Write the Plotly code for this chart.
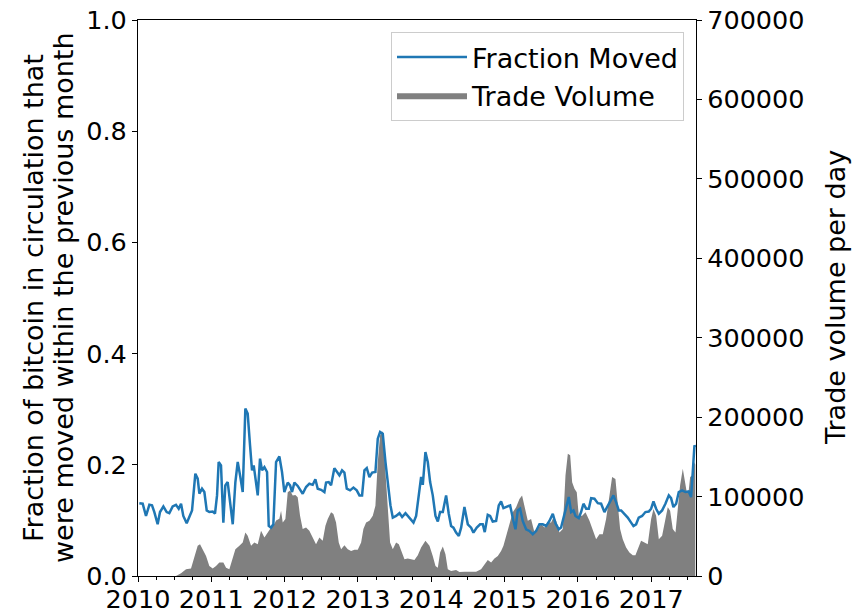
import plotly.graph_objects as go

# ---- Data (decimal years) ----
frac_years = [2010.018, 2010.064, 2010.109, 2010.155, 2010.191, 2010.223, 2010.268, 2010.300, 2010.346, 2010.391,
              2010.427, 2010.473, 2010.518, 2010.555, 2010.587, 2010.618, 2010.664, 2010.700, 2010.737, 2010.782,
              2010.814, 2010.837, 2010.873, 2010.905, 2010.937, 2010.973, 2011.019, 2011.050, 2011.078, 2011.100,
              2011.132, 2011.164, 2011.191, 2011.223, 2011.255, 2011.292, 2011.328, 2011.360, 2011.392, 2011.428,
              2011.464, 2011.496, 2011.528, 2011.555, 2011.578, 2011.601, 2011.633, 2011.664, 2011.692, 2011.724,
              2011.760, 2011.783, 2011.814, 2011.846, 2011.883, 2011.928, 2011.964, 2011.996, 2012.042, 2012.074,
              2012.101, 2012.133, 2012.178, 2012.246, 2012.292, 2012.337, 2012.383, 2012.419, 2012.451, 2012.497,
              2012.542, 2012.565, 2012.601, 2012.633, 2012.678, 2012.715, 2012.747, 2012.783, 2012.815, 2012.847,
              2012.892, 2012.938, 2012.983, 2013.020, 2013.056, 2013.088, 2013.120, 2013.156, 2013.193, 2013.238,
              2013.270, 2013.302, 2013.338, 2013.375, 2013.407, 2013.443, 2013.475, 2013.520, 2013.566, 2013.602,
              2013.648, 2013.679, 2013.725, 2013.757, 2013.793, 2013.829, 2013.861, 2013.884, 2013.920, 2013.952,
              2013.984, 2014.020, 2014.057, 2014.089, 2014.120, 2014.157, 2014.202, 2014.238, 2014.270, 2014.302,
              2014.338, 2014.375, 2014.407, 2014.452, 2014.498, 2014.543, 2014.575, 2014.620, 2014.666, 2014.702,
              2014.729, 2014.770, 2014.802, 2014.838, 2014.884, 2014.920, 2014.952, 2014.984, 2015.029, 2015.075,
              2015.120, 2015.148, 2015.179, 2015.211, 2015.247, 2015.293, 2015.338, 2015.384, 2015.429, 2015.475,
              2015.520, 2015.566, 2015.611, 2015.657, 2015.693, 2015.739, 2015.770, 2015.802, 2015.839, 2015.875,
              2015.907, 2015.939, 2015.966, 2016.011, 2016.043, 2016.075, 2016.112, 2016.148, 2016.180, 2016.225,
              2016.271, 2016.316, 2016.361, 2016.407, 2016.452, 2016.484, 2016.520, 2016.557, 2016.589, 2016.634,
              2016.679, 2016.725, 2016.757, 2016.793, 2016.829, 2016.875, 2016.920, 2016.966, 2016.998, 2017.030,
              2017.066, 2017.103, 2017.148, 2017.193, 2017.239, 2017.270, 2017.302, 2017.339, 2017.375, 2017.420,
              2017.466, 2017.511, 2017.543, 2017.566, 2017.589, 2017.600]
fraction_moved = [0.131, 0.130, 0.108, 0.128, 0.127, 0.115, 0.093, 0.115, 0.125, 0.115,
                  0.113, 0.125, 0.128, 0.121, 0.130, 0.108, 0.095, 0.105, 0.118, 0.184,
                  0.175, 0.148, 0.157, 0.151, 0.118, 0.115, 0.116, 0.112, 0.145, 0.205,
                  0.199, 0.096, 0.163, 0.169, 0.133, 0.093, 0.169, 0.205, 0.181, 0.151,
                  0.301, 0.292, 0.235, 0.190, 0.199, 0.178, 0.145, 0.211, 0.190, 0.196,
                  0.187, 0.090, 0.087, 0.093, 0.205, 0.215, 0.187, 0.151, 0.168, 0.163,
                  0.151, 0.168, 0.162, 0.148, 0.160, 0.166, 0.164, 0.174, 0.157, 0.155,
                  0.151, 0.168, 0.169, 0.163, 0.194, 0.187, 0.181, 0.190, 0.186, 0.157,
                  0.154, 0.159, 0.154, 0.145, 0.145, 0.190, 0.194, 0.178, 0.186, 0.187,
                  0.247, 0.259, 0.256, 0.205, 0.163, 0.127, 0.105, 0.108, 0.113, 0.106,
                  0.113, 0.108, 0.102, 0.096, 0.108, 0.148, 0.178, 0.164, 0.223, 0.205,
                  0.169, 0.145, 0.108, 0.098, 0.115, 0.115, 0.145, 0.112, 0.090, 0.087,
                  0.078, 0.072, 0.087, 0.124, 0.093, 0.087, 0.078, 0.087, 0.093, 0.093,
                  0.079, 0.110, 0.108, 0.098, 0.099, 0.127, 0.134, 0.122, 0.125, 0.127,
                  0.099, 0.084, 0.118, 0.121, 0.099, 0.084, 0.081, 0.075, 0.081, 0.093,
                  0.093, 0.090, 0.099, 0.112, 0.095, 0.084, 0.087, 0.104, 0.127, 0.142,
                  0.115, 0.118, 0.108, 0.104, 0.115, 0.130, 0.121, 0.121, 0.140, 0.139,
                  0.131, 0.130, 0.115, 0.127, 0.136, 0.145, 0.133, 0.118, 0.118, 0.112,
                  0.105, 0.096, 0.090, 0.093, 0.105, 0.108, 0.115, 0.116, 0.121, 0.134,
                  0.121, 0.112, 0.118, 0.130, 0.145, 0.140, 0.124, 0.130, 0.151, 0.154,
                  0.151, 0.152, 0.142, 0.187, 0.235, 0.232]

vol_years = [2010.500, 2010.518, 2010.587, 2010.655, 2010.723, 2010.768, 2010.814, 2010.846, 2010.882, 2010.928,
             2010.973, 2011.019, 2011.064, 2011.110, 2011.164, 2011.201, 2011.246, 2011.292, 2011.328, 2011.383,
             2011.428, 2011.464, 2011.496, 2011.542, 2011.587, 2011.633, 2011.678, 2011.724, 2011.769, 2011.815,
             2011.860, 2011.883, 2011.928, 2011.951, 2011.974, 2012.010, 2012.042, 2012.074, 2012.110, 2012.146,
             2012.178, 2012.210, 2012.246, 2012.292, 2012.337, 2012.383, 2012.428, 2012.474, 2012.519, 2012.556,
             2012.588, 2012.633, 2012.665, 2012.701, 2012.738, 2012.770, 2012.815, 2012.861, 2012.906, 2012.952,
             2012.997, 2013.043, 2013.074, 2013.111, 2013.156, 2013.202, 2013.238, 2013.270, 2013.302, 2013.338,
             2013.375, 2013.407, 2013.438, 2013.475, 2013.520, 2013.557, 2013.602, 2013.634, 2013.679, 2013.725,
             2013.770, 2013.816, 2013.861, 2013.920, 2013.975, 2014.020, 2014.057, 2014.089, 2014.120, 2014.157,
             2014.193, 2014.225, 2014.270, 2014.338, 2014.384, 2014.452, 2014.520, 2014.611, 2014.679, 2014.725,
             2014.770, 2014.816, 2014.861, 2014.907, 2014.952, 2014.984, 2015.020, 2015.066, 2015.111, 2015.157,
             2015.202, 2015.238, 2015.270, 2015.316, 2015.361, 2015.407, 2015.452, 2015.497, 2015.543, 2015.588,
             2015.634, 2015.666, 2015.702, 2015.748, 2015.793, 2015.830, 2015.862, 2015.894, 2015.921, 2015.953,
             2015.984, 2016.011, 2016.057, 2016.103, 2016.157, 2016.202, 2016.248, 2016.293, 2016.339, 2016.384,
             2016.430, 2016.466, 2016.511, 2016.543, 2016.575, 2016.611, 2016.657, 2016.702, 2016.748, 2016.784,
             2016.816, 2016.861, 2016.907, 2016.952, 2016.998, 2017.030, 2017.066, 2017.103, 2017.148, 2017.180,
             2017.225, 2017.257, 2017.293, 2017.330, 2017.361, 2017.393, 2017.430, 2017.457, 2017.484, 2017.511,
             2017.530, 2017.557, 2017.589, 2017.600]
trade_volume = [0, 0, 3400, 8400, 9300, 25300, 38000, 40000, 33800, 25300,
                12700, 9300, 12700, 16900, 16900, 10500, 8400, 21100, 33800, 38000,
                42200, 54800, 50600, 38000, 42200, 40000, 57000, 48500, 54800, 61200,
                65400, 70000, 72000, 82300, 67500, 71700, 105500, 107600, 101300, 102100,
                99200, 75900, 59100, 61200, 57000, 48500, 40100, 48500, 44300, 63300,
                71700, 80200, 78100, 67500, 42200, 33800, 38800, 33800, 31600, 32900,
                32900, 42200, 59100, 67500, 69600, 75900, 88600, 143500, 177200, 182300,
                130800, 75900, 42200, 33800, 42200, 40100, 29500, 21100, 21900, 21100,
                20300, 26000, 35900, 44300, 38000, 25300, 12700, 10500, 29500, 37100,
                27400, 8400, 6300, 7600, 5100, 5500, 5100, 5500, 8400, 14800,
                20300, 16900, 21900, 25300, 31600, 38000, 50600, 67500, 80200, 86500,
                97000, 101300, 88600, 69600, 71700, 54800, 59100, 65400, 61200, 67500,
                67500, 73800, 70000, 54800, 59100, 126600, 154000, 151900, 118100, 109700,
                105500, 75900, 75900, 80200, 69600, 59100, 46400, 52700, 52700, 71700,
                105500, 124500, 122000, 88600, 59100, 46400, 35900, 29500, 26200, 26200,
                33800, 44300, 42200, 40100, 71700, 84400, 75900, 46400, 50600, 67500,
                86500, 82300, 59100, 54800, 80200, 113900, 135000, 118100, 105500, 107600,
                124500, 126600, 143500, 140000]

year_ticks = [2010, 2011, 2012, 2013, 2014, 2015, 2016, 2017]
year_labels = [str(y) for y in year_ticks]
frac_ticks = [0.0, 0.2, 0.4, 0.6, 0.8, 1.0]
vol_ticks = [0, 100000, 200000, 300000, 400000, 500000, 600000, 700000]

FONT = "DejaVu Sans"
FS_TICK = 25.5
FS_LEG = 27
FS_TITLE = 27

L, R, T, B = 138, 166, 20, 38
PW = 862 - L - R

fig = go.Figure()
fig.add_trace(go.Scatter(
    x=frac_years, y=fraction_moved, mode="lines", name="Fraction Moved",
    line=dict(color="#1f77b4", width=2.5), yaxis="y2"))
fig.add_trace(go.Scatter(
    x=vol_years, y=trade_volume, mode="lines", name="Trade Volume",
    fill="tozeroy", fillcolor="#808080", line=dict(color="#808080", width=0),
    yaxis="y"))

axis_common = dict(showline=True, linecolor="black", linewidth=1.2, ticks="outside",
                   ticklen=5, tickwidth=1.2, tickcolor="black", showgrid=False, zeroline=False,
                   automargin=False,
                   tickfont=dict(family=FONT, size=FS_TICK, color="black"))

fig.update_layout(
    width=862, height=614,
    margin=dict(l=L, r=R, t=T, b=B, autoexpand=False),
    paper_bgcolor="white", plot_bgcolor="white",
    font=dict(family=FONT, size=FS_TICK, color="black"),
    showlegend=True,
    legend=dict(x=(684 - L) / PW, y=(576 - 32) / (614 - T - B), xanchor="right", yanchor="top",
                bgcolor="rgba(255,255,255,0.8)", bordercolor="#cccccc", borderwidth=1,
                itemwidth=70,
                font=dict(family=FONT, size=FS_LEG, color="black"), traceorder="normal"),
    xaxis=dict(range=[2010, 2017.61], tickvals=year_ticks, ticktext=year_labels, mirror=True,
               ticklabelstandoff=-5,
               minor=dict(dtick=0.25, tick0=2010, ticks="outside", ticklen=3, tickwidth=1, tickcolor="black"),
               **axis_common),
    yaxis=dict(range=[0, 700000], tickvals=vol_ticks, ticktext=[str(v) for v in vol_ticks],
               side="right", **axis_common),
    yaxis2=dict(range=[0, 1.0], tickvals=frac_ticks, ticktext=[f"{v:.1f}" for v in frac_ticks],
                side="left", overlaying="y", **axis_common),
    annotations=[
        dict(text="Fraction of bitcoin in circulation that",
             xref="paper", yref="paper", x=(33 - L) / PW, y=0.5, textangle=-90,
             showarrow=False, font=dict(family=FONT, size=FS_TITLE, color="black"),
             xanchor="center", yanchor="middle"),
        dict(text="were moved within the previous month",
             xref="paper", yref="paper", x=(63 - L) / PW, y=0.5, textangle=-90,
             showarrow=False, font=dict(family=FONT, size=FS_TITLE, color="black"),
             xanchor="center", yanchor="middle"),
        dict(text="Trade volume per day",
             xref="paper", yref="paper", x=(835 - L) / PW, y=0.5, textangle=-90,
             showarrow=False, font=dict(family=FONT, size=FS_TITLE, color="black"),
             xanchor="center", yanchor="middle"),
    ],
)

fig.write_html("out.html", config={"displayModeBar": False},
               post_script="document.body.style.margin='0px';document.body.style.padding='0px';")
